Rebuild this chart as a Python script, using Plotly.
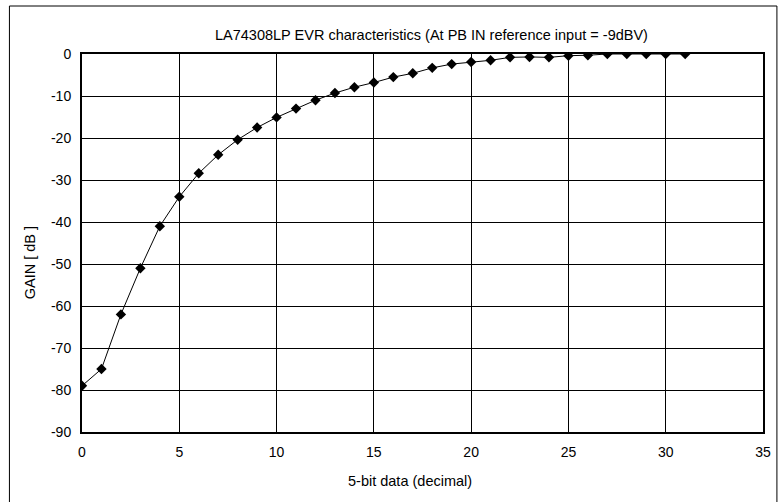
import plotly.graph_objects as go

x_data = list(range(32))
gain_db = [-79, -75, -62, -51, -41, -34, -28.4, -24, -20.4, -17.5,
           -15.1, -13.0, -11.0, -9.3, -7.9, -6.8, -5.5, -4.6, -3.3, -2.4,
           -1.9, -1.5, -0.8, -0.7, -0.8, -0.4, -0.3, 0, 0, 0, 0, 0]

title_text = "LA74308LP EVR characteristics (At PB IN reference input = -9dBV)"
x_title = "5-bit data (decimal)"
y_title = "GAIN [ dB ]"
x_ticks = [0, 5, 10, 15, 20, 25, 30, 35]
y_ticks = [0, -10, -20, -30, -40, -50, -60, -70, -80, -90]
y_ticktext = ["0", "-10", "-20", "-30", "-40", "-50", "-60", "-70", "-80", "-90"]

FONT = "Arial, Liberation Sans, sans-serif"

fig = go.Figure()
fig.add_trace(go.Scatter(
    x=x_data, y=gain_db, mode="lines+markers",
    line=dict(color="black", width=1),
    marker=dict(symbol="diamond", size=8, color="black"),
    showlegend=False,
))

W, H = 783, 502
L, R, T, B = 82, 16, 54, 70
pw, ph = W - L - R, H - T - B

def px_to_paper_x(px):
    return (px - L) / pw

def px_to_paper_y(py):
    return (H - B - py) / ph

fig.update_layout(
    width=W, height=H,
    margin=dict(l=L, r=R, t=T, b=B),
    paper_bgcolor="white", plot_bgcolor="white",
    font=dict(family=FONT, size=14, color="black"),
    xaxis=dict(
        range=[0, 35], tickvals=x_ticks, ticks="",
        showgrid=True, gridcolor="black", gridwidth=1,
        showline=True, linecolor="black", linewidth=2, mirror=True,
        zeroline=False, ticklabelstandoff=6,
        tickfont=dict(size=14),
    ),
    yaxis=dict(
        range=[-90, 0], tickvals=y_ticks, ticktext=y_ticktext, ticks="",
        showgrid=True, gridcolor="black", gridwidth=1,
        showline=True, linecolor="black", linewidth=2, mirror=True,
        zeroline=False, ticklabelstandoff=6,
        tickfont=dict(size=14),
    ),
    annotations=[
        dict(text=title_text, xref="paper", yref="paper",
             x=px_to_paper_x(434), y=px_to_paper_y(35),
             showarrow=False, xanchor="center", yanchor="middle",
             font=dict(size=14.5)),
        dict(text=x_title, xref="paper", yref="paper",
             x=px_to_paper_x(412), y=px_to_paper_y(481),
             showarrow=False, xanchor="center", yanchor="middle",
             font=dict(size=14.5)),
        dict(text=y_title, xref="paper", yref="paper",
             x=px_to_paper_x(30), y=px_to_paper_y(263),
             showarrow=False, xanchor="center", yanchor="middle",
             textangle=-90, font=dict(size=14.5)),
    ],
    shapes=[
        dict(type="rect", xref="paper", yref="paper",
             x0=px_to_paper_x(9), x1=px_to_paper_x(781),
             y0=px_to_paper_y(510), y1=px_to_paper_y(6),
             line=dict(color="black", width=1), fillcolor="rgba(0,0,0,0)",
             layer="below"),
    ],
)

fig.write_html("out.html",
               config={"displayModeBar": False},
               post_script="document.body.style.margin='0px';document.body.style.overflow='hidden';")
